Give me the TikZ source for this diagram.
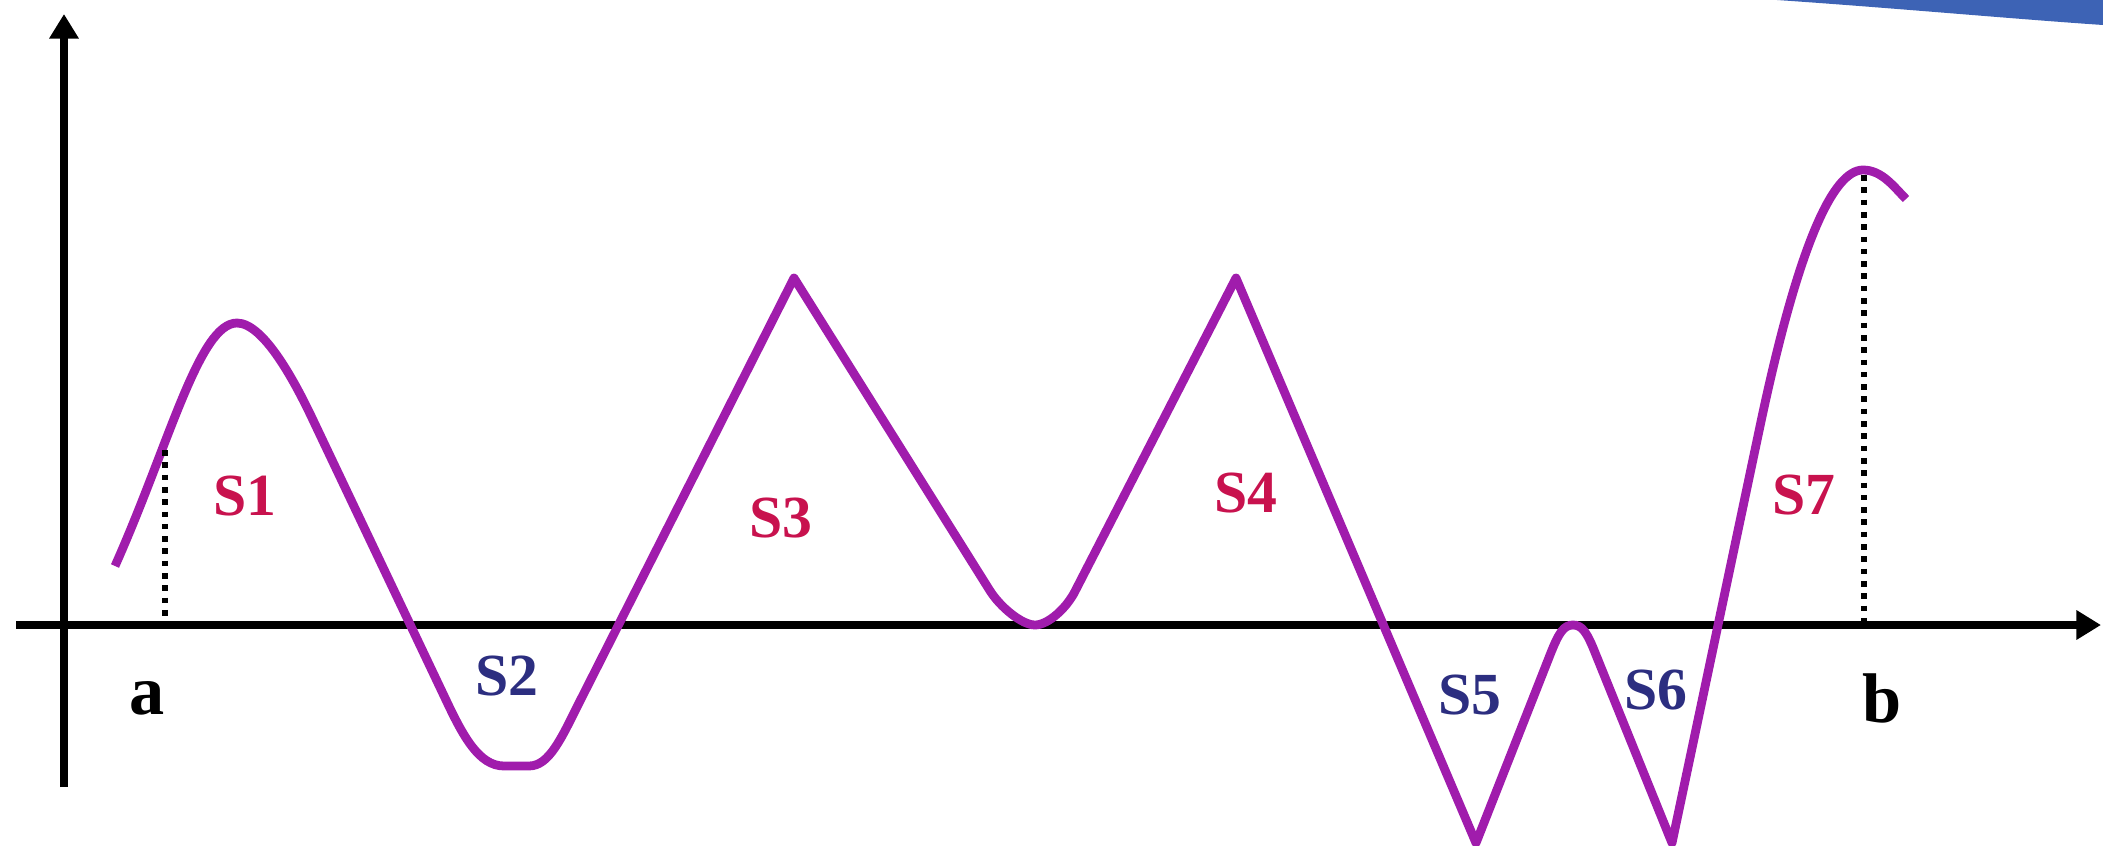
\documentclass[tikz,border=0pt]{standalone}
\usepackage{fontspec}
\setmainfont{Liberation Serif}
\definecolor{sgCurve}{HTML}{A01CAC}
\definecolor{sgPos}{HTML}{C8124E}
\definecolor{sgNeg}{HTML}{2C2E80}
\definecolor{sgBand}{HTML}{3D63B5}
\usetikzlibrary{arrows.meta}

\begin{document}
\begin{tikzpicture}[axis/.style={line width=2.3pt,-{Triangle[width=8pt,length=7pt]}},
                    curve/.style={line width=2.5pt,draw=sgCurve,line join=round},
                    drop/.style={line width=1.8pt,dash pattern=on 1.6pt off 1.9pt},
                    uparea/.style={text=sgPos,font=\fontsize{17}{20}\selectfont\bfseries},
                    downarea/.style={text=sgNeg,font=\fontsize{17}{20}\selectfont\bfseries},
                    bound/.style={font=\fontsize{20}{24}\selectfont\bfseries}]
  \useasboundingbox (-0.64,-2.20) rectangle (20.39,6.25);
  % slide band, top right
  \fill[sgBand] (17.13,6.25) -- (20.39,6.25) -- (20.39,6.00)
                .. controls (19.5,6.06) and (18.3,6.17) .. cycle;

  % axes
  \coordinate (ybot) at (0,-1.62);
  \coordinate (ytop) at (0,6.11);
  \coordinate (xleft) at (-0.48,0);
  \coordinate (xright) at (20.37,0);
  \draw[axis] (ybot) -- (ytop);
  \draw[axis] (xleft) -- (xright);

  % the function
  \draw[curve] (0.51,0.59) .. controls (1.05,1.8) and (1.35,3.02) .. (1.73,3.02)
               .. controls (2.0,3.02) and (2.32,2.41) .. (2.49,2.05)
               -- (3.82,-0.75)
               .. controls (3.99,-1.11) and (4.15,-1.41) .. (4.40,-1.41)
               -- (4.65,-1.41)
               .. controls (4.85,-1.41) and (4.97,-1.14) .. (5.15,-0.78)
               -- (7.30,3.47) -- (9.255,0.35)
               .. controls (9.36,0.18) and (9.58,0.0) .. (9.71,0.0)
               .. controls (9.84,0.0) and (10.03,0.17) .. (10.117,0.35)
               -- (11.72,3.47) -- (14.12,-2.18) -- (14.86,-0.30)
               .. controls (14.95,-0.07) and (15.0,0.0) .. (15.09,0.0)
               .. controls (15.18,0.0) and (15.23,-0.07) .. (15.32,-0.30)
               -- (16.08,-2.18) -- (16.95,1.94)
               .. controls (17.35,3.85) and (17.70,4.55) .. (17.99,4.55)
               .. controls (18.18,4.55) and (18.30,4.38) .. (18.42,4.26);

  % limits
  \coordinate (atop) at (1.01,1.75);
  \coordinate (afoot) at (1.01,0);
  \coordinate (btop) at (18.00,4.50);
  \coordinate (bfoot) at (18.00,0);
  \draw[drop] (atop) -- (afoot);
  \draw[drop] (btop) -- (bfoot);
  \node[bound] (a) at (0.83,-0.73) {a};
  \node[bound] (b) at (18.18,-0.73) {b};

  % areas
  \node[uparea] (s1) at (1.81,1.29) {S1};
  \node[downarea] (s2) at (4.43,-0.51) {S2};
  \node[uparea] (s3) at (7.17,1.07) {S3};
  \node[uparea] (s4) at (11.82,1.32) {S4};
  \node[downarea] (s5) at (14.06,-0.70) {S5};
  \node[downarea] (s6) at (15.92,-0.65) {S6};
  \node[uparea] (s7) at (17.40,1.30) {S7};
\end{tikzpicture}
\end{document}
